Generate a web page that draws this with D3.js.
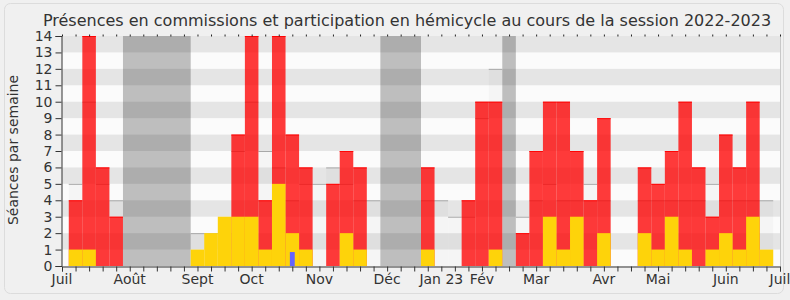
<!DOCTYPE html>
<html>
<head>
<meta charset="utf-8">
<script src="https://cdn.jsdelivr.net/npm/d3@7"></script>
<style>
  body { margin: 0; background: #f0f0f0; }
  svg { display: block; font-family: "DejaVu Sans", sans-serif; }
</style>
</head>
<body>
<svg id="chart" width="790" height="300"></svg>
<script>
// semaines 1..52 de la session (juillet 2022 -> juillet 2023)
var hemicycle = [4, 14, 6, 3, 0, 0, 0, 0, 0, 0, 0, 0, 8, 14, 4, 14, 8, 6, 0, 5, 7, 6, 0, 0, 0, 0,
                 6, 0, 0, 4, 10, 10, 0, 2, 7, 10, 10, 7, 4, 9, 0, 0, 6, 5, 7, 10, 6, 3, 8, 6, 10, 0];
var commissions = [1, 1, 0, 0, 0, 0, 0, 0, 0, 1, 2, 3, 3, 3, 1, 5, 2, 1, 0, 0, 2, 1, 0, 0, 0, 0,
                   1, 0, 0, 0, 0, 1, 0, 0, 0, 3, 1, 3, 0, 2, 0, 0, 2, 1, 3, 1, 0, 1, 2, 1, 3, 1];
var questions = [0, 0, 0, 0, 0, 0, 0, 0, 0, 0, 0, 0, 0, 0, 0, 0, 0.85, 0, 0, 0, 0, 0, 0, 0, 0, 0,
                 0, 0, 0, 0, 0, 0, 0, 0, 0, 0, 0, 0, 0, 0, 0, 0, 0, 0, 0, 0, 0, 0, 0, 0, 0, 0];
var mediane = [5, 10, 5, 4, 0, 0, 0, 0, 0, 2, 2, 2, 7, 10, 7, 6, 4, 5, 5, 6, 5, 4, 4, 0, 0, 0,
               4, 4, 3, 3, 9, 12, 0, 3, 4, 5, 4, 4, 5, 4, 0, 0, 4, 4, 4, 4, 4, 5, 4, 4, 4, 4];
var vacances = [[5, 9], [24, 26], [33, 33]];
var moisLabels = ["Juil", "Août", "Sept", "Oct", "Nov", "Déc", "Jan 23", "Fév", "Mar", "Avr", "Mai", "Juin", "Juil"];
var moisSemaines = [0, 5, 10, 14, 19, 24, 28, 31, 35, 40, 44, 49, 53];

var nbSemaines = 53, maxSeances = 14;

var svg = d3.select('#chart');
var x = d3.scaleLinear().domain([0, nbSemaines]).range([62, 780]);
var y = d3.scaleLinear().domain([0, maxSeances]).range([266, 36]);

var weeks = hemicycle.map(function (v, i) {
    return { week: i + 1, hemi: v, comm: commissions[i], quest: questions[i], med: mediane[i] };
});

// cadre
svg.append('rect')
    .attr('x', 4.5).attr('y', 3.5).attr('width', 779).attr('height', 290)
    .attr('rx', 6).attr('fill', '#f0f0f0').attr('stroke', '#dcdcdc');

svg.append('text')
    .attr('x', 407).attr('y', 26)
    .attr('text-anchor', 'middle')
    .attr('font-size', 16)
    .attr('fill', '#333')
    .text('Présences en commissions et participation en hémicycle au cours de la session 2022-2023');

var plot = svg.append('g');

// fond
plot.append('rect')
    .attr('x', x(0)).attr('y', y(maxSeances))
    .attr('width', x(nbSemaines) - x(0)).attr('height', y(0) - y(maxSeances))
    .attr('fill', '#fbfbfb');

// vacances parlementaires
plot.selectAll('.vac').data(vacances).enter().append('rect')
    .attr('class', 'vac')
    .attr('x', function (d) { return x(d[0] - 0.5); })
    .attr('y', y(maxSeances))
    .attr('width', function (d) { return x(d[1] + 0.5) - x(d[0] - 0.5); })
    .attr('height', y(0) - y(maxSeances))
    .attr('fill', '#bebebe');

// bandes horizontales
plot.selectAll('.band').data(d3.range(1, maxSeances, 2)).enter().append('rect')
    .attr('class', 'band')
    .attr('x', x(0)).attr('y', function (d) { return y(d + 1); })
    .attr('width', x(nbSemaines) - x(0))
    .attr('height', function (d) { return y(d) - y(d + 1); })
    .attr('fill', '#000').attr('fill-opacity', 0.085);

// mediane des deputes
var med = weeks.filter(function (d) { return d.med > 0; });
plot.selectAll('.med').data(med).enter().append('rect')
    .attr('class', 'med')
    .attr('x', function (d) { return x(d.week - 0.5); })
    .attr('y', function (d) { return y(d.med); })
    .attr('width', x(1) - x(0))
    .attr('height', function (d) { return y(0) - y(d.med); })
    .attr('fill', '#000').attr('fill-opacity', 0.025);
plot.selectAll('.medline').data(med).enter().append('line')
    .attr('class', 'medline')
    .attr('x1', function (d) { return x(d.week - 0.5); })
    .attr('x2', function (d) { return x(d.week + 0.5); })
    .attr('y1', function (d) { return y(d.med) + 0.5; })
    .attr('y2', function (d) { return y(d.med) + 0.5; })
    .attr('stroke', '#a8a8a8').attr('stroke-width', 1);

// hemicycle
var hemi = weeks.filter(function (d) { return d.hemi > 0; });
plot.selectAll('.hemi').data(hemi).enter().append('rect')
    .attr('class', 'hemi')
    .attr('x', function (d) { return x(d.week - 0.5); })
    .attr('y', function (d) { return y(d.hemi); })
    .attr('width', x(1) - x(0))
    .attr('height', function (d) { return y(0) - y(d.hemi); })
    .attr('fill', '#ff0000').attr('fill-opacity', 0.77);
plot.selectAll('.hemitop').data(hemi).enter().append('line')
    .attr('class', 'hemitop')
    .attr('x1', function (d) { return x(d.week - 0.5); })
    .attr('x2', function (d) { return x(d.week + 0.5); })
    .attr('y1', function (d) { return y(d.hemi) + 0.5; })
    .attr('y2', function (d) { return y(d.hemi) + 0.5; })
    .attr('stroke', '#f00').attr('stroke-opacity', 0.9);

// commissions
plot.selectAll('.comm').data(weeks.filter(function (d) { return d.comm > 0; })).enter().append('rect')
    .attr('class', 'comm')
    .attr('x', function (d) { return x(d.week - 0.5); })
    .attr('y', function (d) { return y(d.comm); })
    .attr('width', x(1) - x(0))
    .attr('height', function (d) { return y(0) - y(d.comm); })
    .attr('fill', '#fed30a');

// questions orales
plot.selectAll('.quest').data(weeks.filter(function (d) { return d.quest > 0; })).enter().append('rect')
    .attr('class', 'quest')
    .attr('x', function (d) { return x(d.week - 0.18); })
    .attr('y', function (d) { return y(d.quest); })
    .attr('width', x(0.36) - x(0))
    .attr('height', function (d) { return y(0) - y(d.quest); })
    .attr('fill', '#6464ff');

// bord droit
svg.append('line')
    .attr('x1', x(nbSemaines) + 0.5).attr('x2', x(nbSemaines) + 0.5)
    .attr('y1', y(maxSeances)).attr('y2', y(0))
    .attr('stroke', '#c8c8c8');

// axes
var yAxis = d3.axisLeft(y).ticks(maxSeances).tickSize(6).tickPadding(3);
var gy = svg.append('g').attr('transform', 'translate(' + (x(0) - 0.5) + ',0)').call(yAxis);
gy.select('.domain').attr('stroke', '#333');
gy.selectAll('.tick line').attr('stroke', '#333');
gy.selectAll('.tick text').attr('font-size', 14).attr('fill', '#333').attr('font-family', 'DejaVu Sans');

var xAxis = d3.axisBottom(x).tickValues(d3.range(0, nbSemaines + 1)).tickSize(5).tickFormat('');
var gx = svg.append('g').attr('transform', 'translate(0,' + (y(0) + 0.5) + ')').call(xAxis);
gx.select('.domain').attr('stroke', '#333');
gx.selectAll('.tick line').attr('stroke', '#333');

var xTop = d3.axisTop(x).tickValues(d3.range(0, nbSemaines + 1)).tickSize(2).tickFormat('');
var gt = svg.append('g').attr('transform', 'translate(0,' + (y(maxSeances) + 0.5) + ')').call(xTop);
gt.select('.domain').remove();
gt.selectAll('.tick line').attr('stroke', '#222');

svg.selectAll('.mois').data(moisLabels).enter().append('text')
    .attr('class', 'mois')
    .attr('x', function (d, i) { return x(moisSemaines[i]); })
    .attr('y', 284)
    .attr('text-anchor', 'middle')
    .attr('font-size', 14)
    .attr('fill', '#333')
    .text(function (d) { return d; });

svg.append('text')
    .attr('transform', 'translate(17.5,150) rotate(-90)')
    .attr('text-anchor', 'middle')
    .attr('font-size', 14)
    .attr('fill', '#333')
    .text('Séances par semaine');
</script>
</body>
</html>
